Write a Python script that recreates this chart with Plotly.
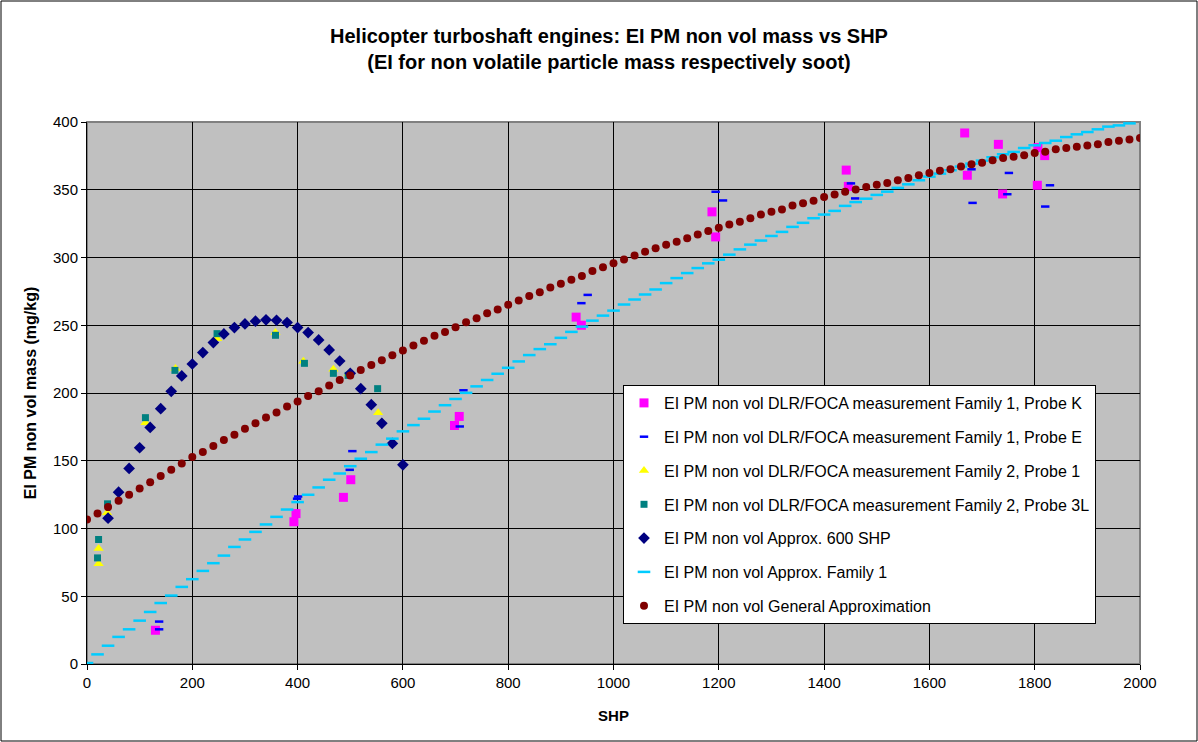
import plotly.graph_objects as go

# ---------------- data ----------------
grid_x = list(range(0, 2001, 20))

general_y = [106.6, 111, 115.8, 120.4, 124.9, 129.6, 134.2, 138.7, 143.3, 148,
             152.7, 156.4, 160.8, 165.3, 169.2, 173.6, 177.6, 182, 185.7, 190.1,
             193.8, 197.8, 201.2, 205.6, 209.6, 213, 217, 220.7, 224.2, 227.8,
             231.4, 235, 238.6, 242.3, 245, 248.6, 252.2, 255.2, 258.8, 261.6,
             265.2, 268.2, 271.6, 274.4, 277.9, 280.7, 283.6, 286.4, 290, 292.8,
             295.7, 298.6, 301.4, 304.3, 306.8, 309.5, 311.7, 314.2, 316.9, 319.6,
             321.9, 324.3, 326.3, 329, 331.7, 333.7, 335.4, 338.4, 340.1, 341.9,
             344.6, 346.5, 348.5, 350.2, 352, 353.6, 355, 357, 358.7, 360.7,
             362.4, 364.1, 365.1, 367.1, 368.8, 370, 371.7, 373.5, 374.4, 375.4,
             377.1, 378.1, 379.9, 380.8, 381.8, 382.6, 383.5, 385.3, 386.2, 387,
             388.2]

family1_y = [0.7, 7.1, 13.5, 20, 25.6, 32, 38.4, 45, 50.5, 56.9,
             62.6, 68.7, 74.4, 80, 86.4, 91.9, 97.5, 103, 108.6, 114,
             119.5, 124.9, 130.3, 136, 140.6, 146, 151.5, 156.4, 161.9, 166.3,
             171.7, 176.3, 181, 186.3, 191, 195.6, 200.1, 204.9, 209.6, 214.2,
             218.6, 223.3, 228, 232.4, 236, 240.7, 245.1, 249, 253.4, 257.1,
             260.8, 265.3, 269, 272.7, 276.4, 281.1, 284.8, 288.5, 292.2, 295.7,
             298.4, 302.1, 306, 309.5, 312.5, 315.9, 318.9, 322.6, 325.6, 329,
             331.7, 334.4, 338.1, 340.9, 343.4, 346.2, 348.6, 351.4, 354, 357,
             359.7, 361.9, 364.4, 367.1, 369.3, 371.5, 374, 376.2, 377.9, 380.8,
             382.8, 384.5, 386.2, 388.9, 390.9, 392.6, 394.6, 396.6, 397.5, 399,
             401]

shp600_x = list(range(40, 601, 20))
shp600_y = [107.6, 126.8, 144.3, 159.6, 174.6, 188.4, 201.2, 212.6, 221.4, 229.8,
            237.2, 243.6, 248.3, 251, 253, 254, 253.7, 252, 248.3, 244.6,
            239.2, 231.8, 223.6, 214.5, 203.2, 191.4, 177.6, 162.8, 147]

probeK_x = [130, 393, 397, 487, 501, 698, 707, 929, 939, 1187, 1194, 1442, 1446,
            1667, 1672, 1731, 1739, 1805, 1806, 1819]
probeK_y = [24.9, 105, 111, 123, 136, 176, 182.7, 256, 250, 333.7, 315.2, 364.5, 352.5,
            391.9, 360.7, 383.5, 346.9, 353.3, 381.1, 375.2]

probeE_x = [137, 137, 401, 399, 499, 504, 708, 715, 939, 951, 1194, 1208, 1451, 1459,
            1680, 1682, 1748, 1751, 1820, 1829]
probeE_y = [31.3, 25.6, 123.6, 122, 143.3, 157.1, 175.3, 202, 266.3, 272.4, 348.5, 342.1,
            354.7, 343.6, 365.1, 340.3, 346.7, 362.4, 337.6, 353.3]

probe1_x = [22, 22, 38, 111, 168, 247, 358, 411, 468, 497, 553]
probe1_y = [73.9, 85.2, 111.6, 178, 218, 240, 244.6, 223.4, 217.5, 214.3, 185.5]

probe3L_x = [20, 22, 39, 111, 167, 247, 358, 413, 468, 496, 552]
probe3L_y = [78.3, 91.9, 118.2, 181.8, 216.7, 243.8, 242.6, 221.9, 214.5, 213, 203.2]

x_ticks = list(range(0, 2001, 200))
y_ticks = list(range(0, 401, 50))

names = [
    "EI PM non vol DLR/FOCA measurement Family 1, Probe K",
    "EI PM non vol DLR/FOCA measurement Family 1, Probe E",
    "EI PM non vol DLR/FOCA measurement Family 2, Probe 1",
    "EI PM non vol DLR/FOCA measurement Family 2, Probe 3L",
    "EI PM non vol Approx. 600 SHP",
    "EI PM non vol Approx. Family 1",
    "EI PM non vol General Approximation",
]

FONT = "Liberation Sans, Arial, sans-serif"

fig = go.Figure()

fig.add_trace(go.Scatter(x=probeK_x, y=probeK_y, mode="markers", name=names[0],
                         legendgroup="a",
                         marker=dict(symbol="square", size=9, color="#ff00ff")))
fig.add_trace(go.Scatter(x=probeE_x, y=probeE_y, mode="markers", name=names[1],
                         legendgroup="b",
                         marker=dict(symbol="line-ew", size=6, color="#0000ff",
                                     line=dict(color="#0000ff", width=2.5))))
fig.add_trace(go.Scatter(x=probe1_x, y=probe1_y, mode="markers", name=names[2],
                         legendgroup="c",
                         marker=dict(symbol="triangle-up", size=9, color="#ffff00")))
fig.add_trace(go.Scatter(x=probe3L_x, y=probe3L_y, mode="markers", name=names[3],
                         legendgroup="d",
                         marker=dict(symbol="square", size=7, color="#008080")))
fig.add_trace(go.Scatter(x=shp600_x, y=shp600_y, mode="markers", name=names[4],
                         legendgroup="e",
                         marker=dict(symbol="diamond", size=9, color="#000080")))
fig.add_trace(go.Scatter(x=grid_x, y=family1_y, mode="markers", name=names[5],
                         legendgroup="f",
                         marker=dict(symbol="line-ew", size=9, color="#00ccff",
                                     line=dict(color="#00ccff", width=2.5))))
fig.add_trace(go.Scatter(x=grid_x, y=general_y, mode="markers", name=names[6],
                         legendgroup="g",
                         marker=dict(symbol="circle", size=8, color="#800000")))

L, R, T, B = 87, 58, 122, 78
W, H = 1198, 742
pw, ph = W - L - R, H - T - B

fig.update_layout(
    width=W, height=H,
    margin=dict(l=L, r=R, t=T, b=B, autoexpand=False),
    paper_bgcolor="white",
    plot_bgcolor="#c0c0c0",
    font=dict(family=FONT, size=15, color="black"),
    title=dict(
        text="Helicopter turboshaft engines: EI PM non vol mass vs SHP<br>(EI for non volatile particle mass respectively soot)",
        x=(609 - L) / pw, xref="paper", xanchor="center",
        y=1 - 43 / H, yanchor="middle",
        font=dict(family=FONT, size=20, color="black", weight="bold"),
    ),
    showlegend=True,
    legend=dict(
        x=(623 - L) / pw, y=(664 - 385) / ph, xanchor="left", yanchor="top",
        bgcolor="white", bordercolor="black", borderwidth=1,
        font=dict(family=FONT, size=16, color="black"),
        tracegroupgap=10,
        itemsizing="trace",
    ),
    xaxis=dict(
        range=[0, 2000], tickvals=x_ticks, ticktext=[str(v) for v in x_ticks],
        showgrid=True, gridcolor="black", gridwidth=1,
        showline=True, linecolor="black", linewidth=1,
        ticks="outside", ticklen=5, tickcolor="black",
        zeroline=False,
        title=dict(text="SHP", font=dict(family=FONT, size=15, weight="bold"), standoff=20),
        tickfont=dict(family=FONT, size=15),
    ),
    yaxis=dict(
        range=[0, 400], tickvals=y_ticks, ticktext=[str(v) for v in y_ticks],
        showgrid=True, gridcolor="black", gridwidth=1,
        showline=True, linecolor="black", linewidth=1,
        ticks="outside", ticklen=5, tickcolor="black",
        zeroline=False,
        title=dict(text="EI PM non vol mass (mg/kg)", font=dict(family=FONT, size=16, weight="bold"), standoff=12),
        tickfont=dict(family=FONT, size=15),
    ),
)

# plot area border (grey top/right like the original)
fig.add_shape(type="rect", xref="paper", yref="paper", x0=0, y0=0, x1=1, y1=1,
              line=dict(color="#808080", width=2), layer="between")
# outer chart border
fig.add_shape(type="rect", xref="paper", yref="paper",
              x0=(1 - L) / pw, x1=(W - 1 - L) / pw,
              y0=-(B - 1) / ph, y1=(H - B - 1) / ph,
              line=dict(color="black", width=1), layer="above")

fig.write_html("out.html")
